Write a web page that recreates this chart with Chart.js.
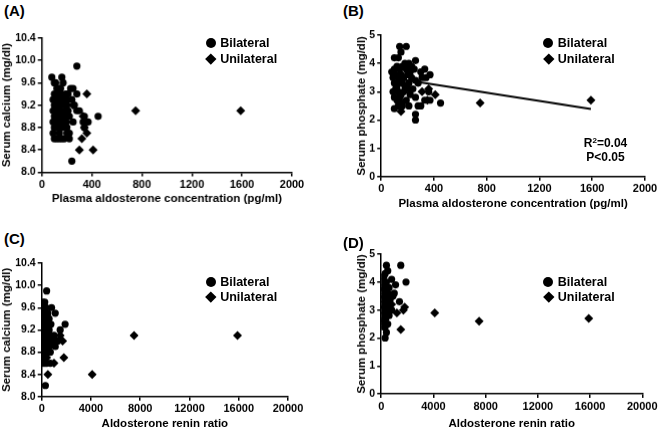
<!DOCTYPE html>
<html>
<head>
<meta charset="utf-8">
<script src="https://cdn.jsdelivr.net/npm/chart.js@4.4.0/dist/chart.umd.min.js"></script>
<style>
  body { margin: 0; background: #fff; width: 661px; height: 431px; position: relative; overflow: hidden;
         font-family: "Liberation Sans", Arial, sans-serif; font-weight: bold; color: #000; }
  canvas { position: absolute; }
  .panel { position: absolute; font-size: 15px; line-height: 16px; }
  .legtext { position: absolute; font-size: 12.5px; line-height: 14px; white-space: nowrap; }
  .dot { position: absolute; width: 10px; height: 10px; border-radius: 50%; background: #000; }
  .dia { position: absolute; width: 7.6px; height: 7.6px; background: #000; transform: rotate(45deg); }
  .stat { position: absolute; font-size: 12px; line-height: 13px; height: 13px; text-align: center; width: 60px; }
  .stat sup { font-size: 8px; line-height: 0; vertical-align: 4px; }
</style>
</head>
<body>
<canvas id="cA"></canvas>
<canvas id="cB"></canvas>
<canvas id="cC"></canvas>
<canvas id="cD"></canvas>
<script>
// Panel A: plasma aldosterone (pg/ml) vs serum calcium (mg/dl)
const pacCaBilateral = [
  [80,9.7],[100,9.6],[110,9.6],[160,9.7],[170,9.6],[280,9.9],
  [120,9.5],[140,9.5],[150,9.5],[230,9.5],[250,9.5],
  [100,9.4],[130,9.4],[150,9.4],[190,9.4],[210,9.4],[280,9.4],
  [90,9.3],[120,9.3],[140,9.3],[170,9.3],[200,9.3],[240,9.3],
  [100,9.2],[130,9.2],[150,9.2],[180,9.2],[200,9.2],[260,9.2],
  [90,9.1],[110,9.1],[130,9.1],[150,9.1],[190,9.1],[210,9.1],[280,9.1],[300,9.1],
  [100,9.0],[120,9.0],[140,9.0],[160,9.0],[200,9.0],[220,9.0],[340,9.0],[450,9.0],
  [90,8.9],[110,8.9],[130,8.9],[150,8.9],[180,8.9],[250,8.9],[330,8.9],[370,8.9],
  [100,8.8],[120,8.8],[140,8.8],[160,8.8],[200,8.8],[340,8.8],
  [90,8.7],[140,8.7],[200,8.7],[220,8.7],
  [100,8.6],[120,8.6],[140,8.6],[160,8.6],[180,8.6],[220,8.6],
  [240,8.2]
];
const pacCaUnilateral = [
  [360,9.4],[750,9.1],[1590,9.1],[330,9.0],[350,8.9],[340,8.8],[360,8.7],
  [320,8.6],[300,8.4],[410,8.4],[250,9.2],[150,9.0],[200,8.9]
];

// Panel B: plasma aldosterone (pg/ml) vs serum phosphate (mg/dl)
const pacPBilateral = [
  [140,4.6],[190,4.6],[150,4.4],[100,4.2],[130,4.2],[260,4.1],[180,4.0],[210,4.0],[230,3.9],
  [80,3.7],[100,3.8],[120,3.9],[140,3.8],[160,3.9],[190,3.8],[220,3.7],[250,3.8],[300,3.7],[330,3.8],[370,3.6],
  [90,3.5],[110,3.6],[130,3.5],[150,3.6],[170,3.5],[200,3.6],[230,3.5],[260,3.4],[310,3.5],[340,3.5],
  [100,3.3],[120,3.2],[140,3.4],[160,3.3],[180,3.2],[210,3.3],[240,3.1],[280,3.3],
  [90,3.0],[110,3.1],[130,3.0],[150,2.9],[170,3.0],[200,3.1],[220,2.9],[360,3.0],
  [100,2.8],[120,2.7],[140,2.8],[160,2.6],[190,2.7],[260,2.8],[330,2.7],[370,2.7],
  [100,2.4],[130,2.5],[160,2.5],[210,2.5],[280,2.5],[300,2.5],[450,2.6],
  [260,2.2],[260,2.0]
];
const pacPUnilateral = [
  [150,2.3],[360,3.1],[410,2.9],[750,2.6],[1590,2.7],[310,3.0],[350,2.7],[140,2.5]
];
const pacPFit = [[90,3.48],[1590,2.39]];
const pacPStats = ['R<sup>2</sup>=0.04', 'P&lt;0.05'];

// Panel C: aldosterone renin ratio vs serum calcium (mg/dl)
const arrCaBilateral = [
  [400,9.9],[100,9.7],[250,9.7],[800,9.6],[150,9.6],[350,9.6],
  [1100,9.5],[500,9.5],[100,9.5],[300,9.5],
  [200,9.4],[600,9.4],[50,9.4],[400,9.4],
  [400,9.3],[1900,9.3],[750,9.3],[100,9.3],[250,9.3],
  [300,9.2],[1500,9.2],[600,9.2],[50,9.2],[150,9.2],
  [100,9.1],[400,9.1],[1000,9.1],[700,9.1],[250,9.1],
  [200,9.0],[500,9.0],[1300,9.0],[800,9.0],[50,9.0],[350,9.0],
  [300,8.9],[600,8.9],[1100,8.9],[100,8.9],[450,8.9],
  [200,8.8],[500,8.8],[700,8.8],[50,8.8],[350,8.8],
  [300,8.7],[100,8.7],[200,8.7],
  [400,8.6],[700,8.6],[100,8.6],[250,8.6],
  [300,8.2]
];
const arrCaUnilateral = [
  [7500,9.1],[15900,9.1],[4100,8.4],[1800,8.7],[1700,9.0],[1000,8.6],
  [500,8.4],[1500,9.1],[600,8.9],[900,9.0],[400,8.7],[300,9.3]
];

// Panel D: aldosterone renin ratio vs serum phosphate (mg/dl)
const arrPBilateral = [
  [1500,4.6],[400,4.6],[500,4.4],[300,4.3],[200,4.2],[800,4.1],[1900,4.0],[400,4.0],[100,4.0],
  [1100,3.9],[600,3.8],[200,3.8],[300,3.7],[100,3.7],[1000,3.6],[500,3.6],
  [900,3.5],[200,3.5],[700,3.4],[400,3.4],[100,3.4],[1400,3.3],[300,3.3],[600,3.2],[150,3.2],
  [500,3.1],[250,3.1],[800,3.0],[100,3.0],[400,3.0],[300,2.9],[600,2.8],[150,2.8],[350,2.7],
  [100,2.6],[250,2.6],[500,2.5],[150,2.4],[300,2.4],[400,2.2],[300,2.0]
];
const arrPUnilateral = [
  [4100,2.9],[7500,2.6],[15900,2.7],[1500,2.3],[1800,3.1],[1700,3.0],
  [1200,2.9],[400,2.5],[600,3.0],[300,3.1],[800,3.2]
];

const seriesNames = ['Bilateral', 'Unilateral'];
const panelLabels = ['(A)', '(B)', '(C)', '(D)'];
const xTitles = ['Plasma aldosterone concentration (pg/ml)', 'Aldosterone renin ratio'];
const yTitles = ['Serum calcium (mg/dl)', 'Serum phosphate (mg/dl)'];

Chart.defaults.font.family = "'Liberation Sans', Arial, sans-serif";
Chart.defaults.color = '#000';

const TITLE_SIZE = 11.5;
const LH = TITLE_SIZE * 1.2;

const toXY = arr => arr.map(p => ({ x: p[0], y: p[1] }));

function makePanel(id, boxLeft, area, xTitleY, xAxis, yAxis, sets) {
  const top = area.t - 15;
  const right = Math.min(661, area.r + 20);
  const bottom = xTitleY + LH / 2 + 2;
  const w = right - boxLeft, h = bottom - top;
  const cv = document.getElementById(id);
  cv.style.left = boxLeft + 'px';
  cv.style.top = top + 'px';
  cv.width = w; cv.height = h;
  cv.style.width = w + 'px'; cv.style.height = h + 'px';

  const yw = area.l - boxLeft;
  const xh = xTitleY + LH / 2 - area.b;

  const axisBase = {
    type: 'linear',
    grid: { drawOnChartArea: false, drawTicks: true, tickLength: 4, color: '#000', lineWidth: 1.5 },
    border: { color: '#000', width: 1.5 },
  };

  new Chart(cv, {
    type: 'scatter',
    data: { datasets: sets },
    options: {
      responsive: false,
      animation: false,
      devicePixelRatio: 1,
      layout: { padding: { left: 0, top: area.t - top, right: right - area.r, bottom: 2 } },
      plugins: { legend: { display: false }, tooltip: { enabled: false } },
      scales: {
        x: Object.assign({}, axisBase, {
          min: xAxis.min, max: xAxis.max,
          ticks: { stepSize: xAxis.step, padding: 2, maxRotation: 0, autoSkip: false,
                   font: { size: 11, weight: 'bold' }, callback: v => String(v) },
          title: { display: true, text: xAxis.title, padding: 0, font: { size: TITLE_SIZE, weight: 'bold' } },
          afterFit: s => { s.height = xh; }
        }),
        y: Object.assign({}, axisBase, {
          min: yAxis.min, max: yAxis.max,
          ticks: { stepSize: yAxis.step, padding: 2, autoSkip: false,
                   font: { size: 10.5, weight: 'bold' }, callback: v => v.toFixed(yAxis.dec) },
          title: { display: true, text: yAxis.title, padding: 0, font: { size: TITLE_SIZE, weight: 'bold' } },
          afterFit: s => { s.width = yw; }
        })
      }
    }
  });
}

function scatterSets(bi, uni) {
  return [
    { label: seriesNames[0], data: toXY(bi), pointStyle: 'circle', pointRadius: 3.6,
      backgroundColor: '#000', borderWidth: 0, order: 1 },
    { label: seriesNames[1], data: toXY(uni), pointStyle: 'rectRot', pointRadius: 4.5,
      backgroundColor: '#000', borderWidth: 0, order: 0 }
  ];
}

const caAxis = { min: 8.0, max: 10.4, step: 0.4, dec: 1, title: yTitles[0] };
const pAxis = { min: 0, max: 5, step: 1, dec: 0, title: yTitles[1] };
const pacAxis = { min: 0, max: 2000, step: 400, title: xTitles[0] };
const arrAxis = { min: 0, max: 20000, step: 4000, title: xTitles[1] };

const leftBoxA = 0, leftBoxB = 361.7 - LH / 2;

makePanel('cA', leftBoxA, { l: 41.7, t: 38.3, r: 291.7, b: 172.3 }, 199, pacAxis, caAxis,
  scatterSets(pacCaBilateral, pacCaUnilateral));

const setsB = scatterSets(pacPBilateral, pacPUnilateral);
setsB.push({ type: 'line', label: 'fit', data: toXY(pacPFit), showLine: true, pointRadius: 0,
             borderColor: '#000', backgroundColor: '#000', borderWidth: 2, order: 5 });
makePanel('cB', leftBoxB, { l: 381, t: 35, r: 645, b: 176.7 }, 204, pacAxis, pAxis, setsB);

makePanel('cC', leftBoxA, { l: 41.7, t: 263.3, r: 288.3, b: 396.7 }, 424, arrAxis, caAxis,
  scatterSets(arrCaBilateral, arrCaUnilateral));

makePanel('cD', leftBoxB, { l: 381, t: 254, r: 642.3, b: 394 }, 424, arrAxis, pAxis,
  scatterSets(arrPBilateral, arrPUnilateral));

// panel letters
const labelPos = [[4, 3], [343, 3], [4, 231], [343, 235]];
panelLabels.forEach((t, i) => {
  const d = document.createElement('div');
  d.className = 'panel';
  d.textContent = t;
  d.style.left = labelPos[i][0] + 'px';
  d.style.top = labelPos[i][1] + 'px';
  document.body.appendChild(d);
});

// legends (marker centre x, first row centre y)
const legendPos = [[210.7, 43.3], [548.3, 43.3], [210.7, 281.7], [548.3, 281.7]];
legendPos.forEach(p => {
  [0, 1].forEach(k => {
    const cy = p[1] + k * 15.3;
    const m = document.createElement('div');
    m.className = k === 0 ? 'dot' : 'dia';
    const half = k === 0 ? 5 : 3.8;
    m.style.left = (p[0] - half) + 'px';
    m.style.top = (cy - half) + 'px';
    document.body.appendChild(m);
    const t = document.createElement('div');
    t.className = 'legtext';
    t.textContent = seriesNames[k];
    t.style.left = (p[0] + 9.5) + 'px';
    t.style.top = (cy - 7) + 'px';
    document.body.appendChild(t);
  });
});

// regression statistics in panel B
pacPStats.forEach((s, i) => {
  const d = document.createElement('div');
  d.className = 'stat';
  d.innerHTML = s;
  d.style.left = (605.5 - 30) + 'px';
  d.style.top = (137 + i * 13.5) + 'px';
  document.body.appendChild(d);
});
</script>
</body>
</html>
